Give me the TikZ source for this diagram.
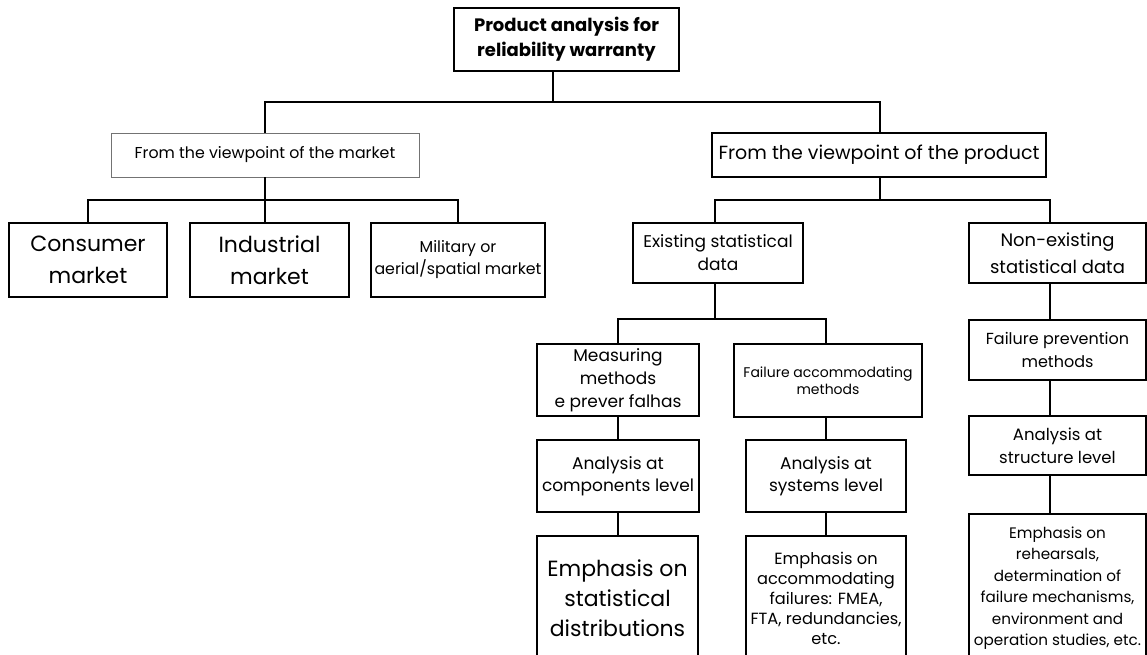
\documentclass[tikz,border=0pt]{standalone}
\usepackage{fontspec}
\setmainfont{Poppins}
\tikzset{
  box/.style={draw, line width=1.5pt, inner sep=0pt, align=center},
  gbox/.style={draw=black!55, line width=0.8pt, inner sep=0pt, align=center},
  conn/.style={line width=1.5pt},
}
\newcommand{\fs}[2]{\fontsize{#1}{#2}\selectfont}
\begin{document}
\begin{tikzpicture}[x=1pt,y=-1pt]
\useasboundingbox (0,0) rectangle (1147,655);
\clip (0,0) rectangle (1147,655);
% level 0
\node[box, minimum width=225pt, minimum height=63pt, font=\fs{18}{25}\bfseries] (top) at (566.5,39.5) {Product analysis for\\reliability warranty};
% level 1
\node[gbox, minimum width=308pt, minimum height=44pt, font=\fs{15.8}{18}] (market) at (265,155) {From the viewpoint of the market};
\node[box, minimum width=334pt, minimum height=44pt, font=\fs{19}{18}] (product) at (879,155) {From the viewpoint of the product};
% market children
\node[box, minimum width=158pt, minimum height=74pt, font=\fs{22}{32}] (consumer) at (88,260) {Consumer\\market};
\node[box, minimum width=159pt, minimum height=74pt, font=\fs{22}{32}] (industrial) at (269.5,260) {Industrial\\market};
\node[box, minimum width=174pt, minimum height=74pt, font=\fs{15.8}{22}] (military) at (458,260) {Military or\\aerial/spatial market};
% product children
\node[box, minimum width=170pt, minimum height=60pt, font=\fs{17}{23}] (existing) at (718,253) {Existing statistical\\data};
\node[box, minimum width=177pt, minimum height=60pt, font=\fs{18}{27}] (nonexist) at (1057.5,253) {Non-existing\\statistical data};
% existing children
\node[box, minimum width=162pt, minimum height=72pt, font=\fs{17}{23}] (measuring) at (618,380) {Measuring\\methods\\e prever falhas};
\node[box, minimum width=188pt, minimum height=73pt, font=\fs{14}{17}] (failacc) at (828,380.5) {Failure accommodating\\methods};
\node[box, minimum width=162pt, minimum height=72pt, font=\fs{17}{22}] (anacomp) at (618,476) {Analysis at\\components level};
\node[box, minimum width=160pt, minimum height=72pt, font=\fs{17}{22}] (anasys) at (826,476) {Analysis at\\systems level};
\node[box, minimum width=161pt, minimum height=124pt, font=\fs{22}{30}] (emstat) at (617.5,598) {Emphasis on\\statistical\\distributions};
\node[box, minimum width=160pt, minimum height=124pt, font=\fs{16.2}{20}] (emacc) at (826,598) {Emphasis on\\accommodating\\failures: FMEA,\\FTA, redundancies,\\etc.};
% non-existing children
\node[box, minimum width=177pt, minimum height=60pt, font=\fs{16}{23}] (failprev) at (1057.5,350) {Failure prevention\\methods};
\node[box, minimum width=177pt, minimum height=59pt, font=\fs{16.5}{23}] (anastr) at (1057.5,445.5) {Analysis at\\structure level};
\node[box, minimum width=177pt, minimum height=148pt, font=\fs{15.2}{21.5}] (emreh) at (1057.5,588) {Emphasis on\\rehearsals,\\determination of\\failure mechanisms,\\environment and\\operation studies, etc.};
% bus coordinates
\coordinate (b1) at (553,102);
\coordinate (b2) at (265,200);
\coordinate (b3) at (880,200);
\coordinate (b4) at (715,319);
\coordinate (v1) at (1050,0);
% connectors
\draw[conn] (top.south -| b1) -- (b1);
\draw[conn] (market.north) |- (b1) -| (product.north -| b3);
\draw[conn] (market.south) -- (industrial.north -| market.south);
\draw[conn] (consumer.north) |- (b2) -| (military.north);
\draw[conn] (product.south -| b3) -- (b3);
\draw[conn] (existing.north -| b4) |- (b3) -| (nonexist.north -| v1);
\draw[conn] (existing.south -| b4) -- (b4);
\draw[conn] (measuring.north) |- (b4) -| (failacc.north -| anasys.north);
\draw[conn] (measuring.south) -- (anacomp.north);
\draw[conn] (anacomp.south) -- (anacomp.south |- emstat.north);
\draw[conn] (failacc.south -| anasys.north) -- (anasys.north);
\draw[conn] (anasys.south) -- (emacc.north);
\draw[conn] (nonexist.south -| v1) -- (failprev.north -| v1);
\draw[conn] (failprev.south -| v1) -- (anastr.north -| v1);
\draw[conn] (anastr.south -| v1) -- (emreh.north -| v1);
\end{tikzpicture}
\end{document}
